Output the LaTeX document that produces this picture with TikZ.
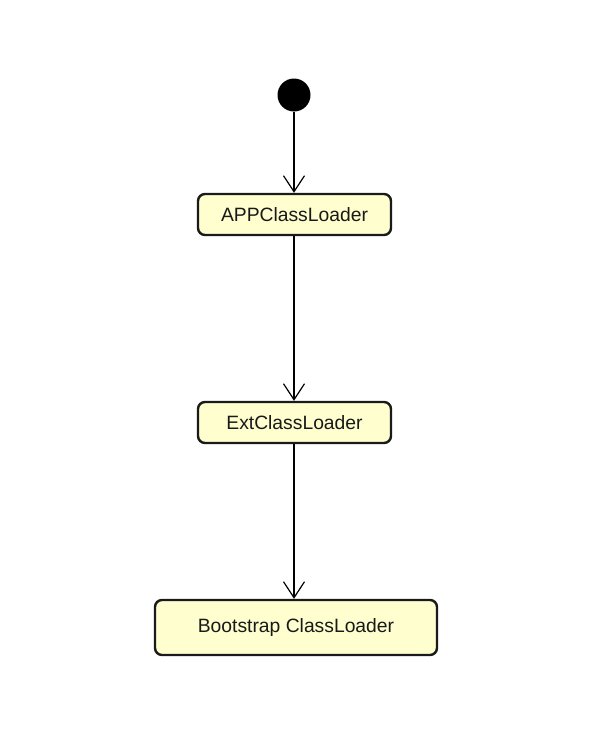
\documentclass[tikz,border=0pt]{standalone}
\usepackage{fontspec}
\setmainfont{Liberation Sans}
\usetikzlibrary{arrows.meta}

\definecolor{statefill}{HTML}{FEFECE}
\definecolor{stateline}{HTML}{1A1A1A}

\begin{document}
\begin{tikzpicture}[x=1pt,y=-1pt,
  state/.style={draw=stateline, fill=statefill, line width=2.4pt, rounded corners=7pt,
    inner sep=0pt, font=\fontsize{19.3}{21}\selectfont, text=black!90},
  flow/.style={line width=1.2pt, -{Straight Barb[length=16pt,width=21pt,line width=1.2pt]}}]

% keep the page size
\useasboundingbox (0,0) rectangle (614,745);

% the start point
\fill (294,95) circle (16.5);
\coordinate (start) at (294,111.5);

% the loaders
\node[state, minimum width=193pt, minimum height=41pt] (app) at (294.5,214.5) {APPClassLoader};
\node[state, minimum width=193pt, minimum height=41pt] (ext) at (294.5,422.5) {ExtClassLoader};
\node[state, minimum width=282pt, minimum height=55pt] (boot) at (296,627.5) {Bootstrap ClassLoader};

% the delegation
\draw[flow] (start) -- (app.north -| start);
\draw[flow] (app.south -| start) -- (ext.north -| start);
\draw[flow] (ext.south -| start) -- (boot.north -| start);

\end{tikzpicture}
\end{document}
